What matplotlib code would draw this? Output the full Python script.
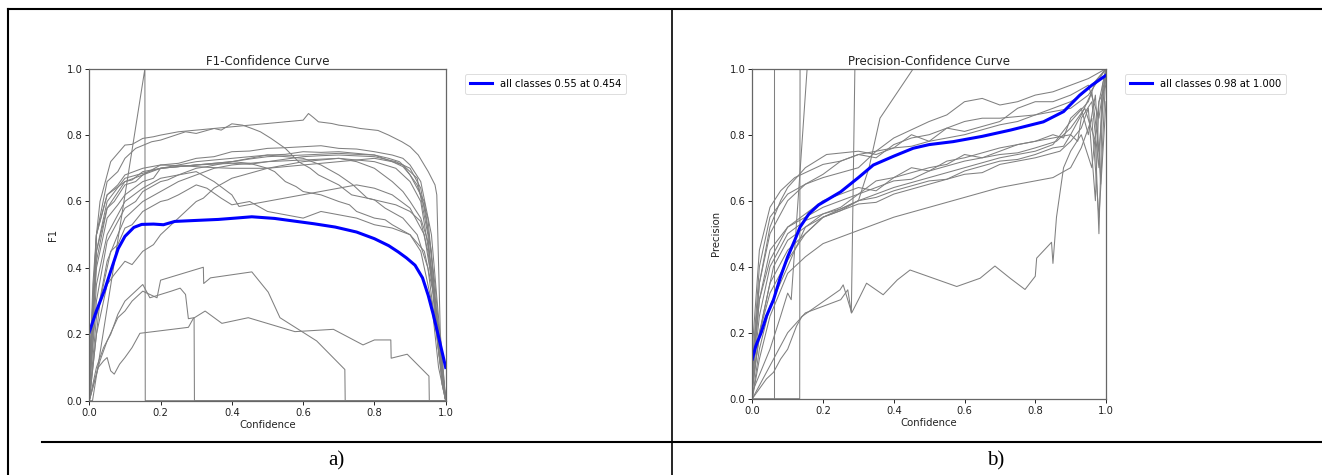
import matplotlib.pyplot as plt
import numpy as np

# ---------------- data ----------------
# F1-Confidence: per-class curves as (confidence, f1) points
f1_classes = [
    [[0, 0.05], [0.01, 0.35], [0.02, 0.5], [0.03, 0.6], [0.045, 0.66], [0.06, 0.72], [0.08, 0.745], [0.1, 0.77],
     [0.12, 0.772], [0.15, 0.79], [0.18, 0.795], [0.2, 0.80], [0.25, 0.81], [0.3, 0.815], [0.35, 0.82],
     [0.4, 0.825], [0.45, 0.83], [0.5, 0.835], [0.55, 0.84], [0.6, 0.845], [0.615, 0.865], [0.63, 0.852],
     [0.643, 0.84], [0.68, 0.835], [0.7, 0.83], [0.736, 0.825], [0.76, 0.82], [0.81, 0.814], [0.84, 0.80],
     [0.877, 0.78], [0.9, 0.765], [0.923, 0.74], [0.951, 0.69], [0.97, 0.65], [0.975, 0.62], [0.985, 0.2],
     [1.0, 0.0]],
    [[0, 0.02], [0.02, 0.5], [0.05, 0.66], [0.08, 0.69], [0.1, 0.73], [0.13, 0.76], [0.175, 0.78], [0.2, 0.785],
     [0.27, 0.81], [0.3, 0.805], [0.35, 0.82], [0.37, 0.815], [0.4, 0.834], [0.43, 0.83], [0.456, 0.82],
     [0.48, 0.81], [0.51, 0.79], [0.55, 0.76], [0.587, 0.72], [0.62, 0.70], [0.643, 0.68], [0.7, 0.65],
     [0.736, 0.62], [0.78, 0.61], [0.82, 0.60], [0.86, 0.59], [0.9, 0.57], [0.93, 0.54], [0.95, 0.45],
     [0.98, 0.2], [1.0, 0.0]],
    [[0, 0.1], [0.02, 0.45], [0.05, 0.58], [0.07, 0.6], [0.1, 0.65], [0.13, 0.66], [0.15, 0.68], [0.2, 0.71],
     [0.25, 0.715], [0.3, 0.73], [0.35, 0.735], [0.4, 0.75], [0.45, 0.752], [0.5, 0.76], [0.55, 0.762],
     [0.6, 0.765], [0.65, 0.768], [0.7, 0.76], [0.75, 0.758], [0.8, 0.75], [0.85, 0.74], [0.88, 0.73],
     [0.9, 0.71], [0.93, 0.66], [0.96, 0.5], [0.98, 0.25], [1.0, 0.0]],
    [[0, 0.05], [0.02, 0.4], [0.05, 0.55], [0.08, 0.59], [0.1, 0.62], [0.15, 0.66], [0.18, 0.67], [0.2, 0.70],
     [0.25, 0.705], [0.3, 0.71], [0.35, 0.715], [0.4, 0.72], [0.45, 0.73], [0.5, 0.74], [0.55, 0.742],
     [0.6, 0.75], [0.65, 0.748], [0.7, 0.75], [0.75, 0.745], [0.8, 0.74], [0.85, 0.72], [0.88, 0.705],
     [0.9, 0.68], [0.94, 0.6], [0.97, 0.35], [0.99, 0.1], [1.0, 0.0]],
    [[0, 0.08], [0.02, 0.5], [0.05, 0.62], [0.08, 0.65], [0.1, 0.68], [0.15, 0.70], [0.2, 0.71], [0.25, 0.708],
     [0.3, 0.705], [0.35, 0.702], [0.4, 0.70], [0.5, 0.70], [0.6, 0.71], [0.7, 0.72], [0.75, 0.725],
     [0.8, 0.73], [0.85, 0.72], [0.88, 0.71], [0.92, 0.65], [0.95, 0.55], [0.98, 0.2], [1.0, 0.0]],
    [[0, 0.03], [0.02, 0.3], [0.05, 0.48], [0.08, 0.54], [0.1, 0.58], [0.13, 0.6], [0.15, 0.63], [0.2, 0.66],
     [0.22, 0.665], [0.25, 0.68], [0.3, 0.70], [0.33, 0.705], [0.4, 0.72], [0.45, 0.728], [0.5, 0.735],
     [0.6, 0.74], [0.7, 0.745], [0.75, 0.742], [0.8, 0.74], [0.84, 0.73], [0.87, 0.72], [0.92, 0.67],
     [0.95, 0.5], [0.97, 0.25], [0.99, 0.05], [1.0, 0.0]],
    [[0, 0.05], [0.02, 0.42], [0.05, 0.58], [0.1, 0.66], [0.12, 0.665], [0.15, 0.69], [0.2, 0.70], [0.3, 0.71],
     [0.4, 0.715], [0.45, 0.712], [0.5, 0.72], [0.6, 0.735], [0.65, 0.738], [0.7, 0.74], [0.8, 0.735],
     [0.86, 0.72], [0.9, 0.70], [0.93, 0.64], [0.96, 0.45], [0.98, 0.15], [1.0, 0.0]],
    [[0, 0.1], [0.02, 0.5], [0.05, 0.62], [0.1, 0.66], [0.15, 0.68], [0.2, 0.70], [0.3, 0.71], [0.4, 0.72],
     [0.45, 0.715], [0.5, 0.70], [0.52, 0.69], [0.55, 0.66], [0.58, 0.645], [0.6, 0.63], [0.65, 0.62],
     [0.7, 0.60], [0.73, 0.59], [0.75, 0.57], [0.8, 0.55], [0.83, 0.545], [0.85, 0.53], [0.9, 0.50],
     [0.93, 0.45], [0.96, 0.3], [0.98, 0.1], [1.0, 0.0]],
    [[0, 0.0], [0.03, 0.3], [0.06, 0.45], [0.08, 0.47], [0.1, 0.52], [0.12, 0.53], [0.15, 0.57], [0.2, 0.6],
     [0.22, 0.605], [0.25, 0.62], [0.3, 0.65], [0.33, 0.64], [0.37, 0.61], [0.4, 0.59], [0.45, 0.60],
     [0.5, 0.57], [0.55, 0.56], [0.6, 0.55], [0.65, 0.57], [0.7, 0.56], [0.75, 0.55], [0.8, 0.53],
     [0.85, 0.52], [0.9, 0.5], [0.94, 0.45], [0.97, 0.3], [1.0, 0.0]],
    [[0, 0.02], [0.02, 0.35], [0.05, 0.5], [0.1, 0.6], [0.15, 0.64], [0.2, 0.67], [0.25, 0.68], [0.3, 0.69],
     [0.35, 0.66], [0.4, 0.62], [0.42, 0.585], [0.75, 0.65], [0.8, 0.64], [0.85, 0.62], [0.9, 0.58],
     [0.94, 0.5], [0.97, 0.3], [0.99, 0.05], [1.0, 0.0]],
    [[0, 0.0], [0.02, 0.2], [0.05, 0.35], [0.07, 0.38], [0.1, 0.42], [0.12, 0.41], [0.15, 0.45], [0.18, 0.47],
     [0.2, 0.5], [0.25, 0.55], [0.3, 0.6], [0.32, 0.61], [0.35, 0.64], [0.4, 0.67], [0.5, 0.70], [0.6, 0.72],
     [0.7, 0.73], [0.8, 0.72], [0.86, 0.70], [0.9, 0.66], [0.93, 0.6], [0.96, 0.4], [0.98, 0.15], [1.0, 0.0]],
    [[0, 0.05], [0.02, 0.45], [0.05, 0.6], [0.1, 0.67], [0.2, 0.70], [0.3, 0.72], [0.4, 0.73], [0.5, 0.74],
     [0.6, 0.73], [0.65, 0.71], [0.7, 0.68], [0.74, 0.65], [0.78, 0.61], [0.8, 0.605], [0.83, 0.58],
     [0.88, 0.55], [0.92, 0.5], [0.95, 0.4], [0.98, 0.15], [1.0, 0.0]],
    [[0, 0.0], [0.02, 0.25], [0.05, 0.42], [0.08, 0.5], [0.1, 0.55], [0.15, 0.6], [0.2, 0.63], [0.25, 0.66],
     [0.3, 0.68], [0.35, 0.7], [0.4, 0.71], [0.5, 0.72], [0.6, 0.725], [0.7, 0.73], [0.75, 0.72],
     [0.8, 0.7], [0.85, 0.66], [0.88, 0.63], [0.9, 0.6], [0.93, 0.55], [0.95, 0.48], [0.97, 0.3],
     [0.99, 0.08], [1.0, 0.0]],
    [[0, 0.0], [0.009, 0.0], [0.156, 1.0], [0.157, 0.0], [1.0, 0.0]],
    [[0, 0.0], [0.025, 0.1], [0.04, 0.12], [0.05, 0.13], [0.06, 0.09], [0.07, 0.08], [0.085, 0.11],
     [0.1, 0.13], [0.12, 0.16], [0.142, 0.203], [0.278, 0.221], [0.292, 0.248], [0.325, 0.27], [0.372, 0.233],
     [0.446, 0.25], [0.577, 0.208], [0.685, 0.215], [0.768, 0.168], [0.80, 0.183], [0.846, 0.183],
     [0.847, 0.128], [0.892, 0.14], [0.953, 0.074], [0.954, 0.0], [1.0, 0.0]],
    [[0, 0.0], [0.03, 0.12], [0.05, 0.18], [0.08, 0.25], [0.1, 0.27], [0.12, 0.3], [0.15, 0.33], [0.17, 0.32],
     [0.19, 0.31], [0.2, 0.363], [0.32, 0.402], [0.321, 0.353], [0.34, 0.37], [0.456, 0.388], [0.502, 0.327],
     [0.535, 0.25], [0.638, 0.18], [0.717, 0.094], [0.718, 0.0], [1.0, 0.0]],
    [[0, 0.0], [0.02, 0.1], [0.04, 0.16], [0.06, 0.2], [0.08, 0.26], [0.1, 0.3], [0.12, 0.32], [0.13, 0.33],
     [0.15, 0.35], [0.16, 0.33], [0.17, 0.31], [0.2, 0.32], [0.23, 0.33], [0.255, 0.339], [0.27, 0.32],
     [0.278, 0.247], [0.294, 0.25], [0.295, 0.0], [1.0, 0.0]],
]
f1_all_x = [0, 0.02, 0.044, 0.06, 0.081, 0.1, 0.125, 0.147, 0.18, 0.208, 0.24, 0.3, 0.362, 0.41, 0.456,
            0.52, 0.568, 0.63, 0.69, 0.75, 0.80, 0.84, 0.867, 0.89, 0.914, 0.935, 0.951, 0.965, 0.979, 1.0]
f1_all_y = [0.207, 0.27, 0.337, 0.39, 0.458, 0.495, 0.522, 0.531, 0.532, 0.53, 0.54, 0.543, 0.546, 0.55,
            0.554, 0.549, 0.542, 0.533, 0.523, 0.508, 0.488, 0.467, 0.448, 0.43, 0.408, 0.37, 0.317, 0.26,
            0.197, 0.10]

# Precision-Confidence: per-class curves
p_classes = [
    [[0, 0.15], [0.02, 0.45], [0.05, 0.58], [0.08, 0.63], [0.12, 0.67], [0.2, 0.71], [0.25, 0.72], [0.3, 0.74],
     [0.4, 0.76], [0.45, 0.765], [0.5, 0.78], [0.6, 0.80], [0.7, 0.83], [0.75, 0.84], [0.8, 0.86],
     [0.85, 0.88], [0.9, 0.9], [0.93, 0.92], [0.96, 0.95], [1.0, 1.0]],
    [[0, 0.1], [0.02, 0.35], [0.05, 0.5], [0.1, 0.6], [0.15, 0.65], [0.2, 0.68], [0.25, 0.72], [0.3, 0.74],
     [0.35, 0.73], [0.4, 0.77], [0.45, 0.79], [0.5, 0.80], [0.55, 0.82], [0.6, 0.81], [0.7, 0.84],
     [0.75, 0.88], [0.8, 0.90], [0.85, 0.90], [0.9, 0.92], [0.95, 0.95], [0.98, 0.85], [1.0, 1.0]],
    [[0, 0.05], [0.03, 0.25], [0.06, 0.4], [0.1, 0.48], [0.15, 0.52], [0.2, 0.55], [0.25, 0.57], [0.3, 0.6],
     [0.33, 0.7], [0.361, 0.85], [0.455, 1.0], [1.0, 1.0]],
    [[0, 0.05], [0.02, 0.25], [0.05, 0.4], [0.1, 0.5], [0.15, 0.54], [0.2, 0.56], [0.25, 0.575], [0.3, 0.6],
     [0.35, 0.61], [0.4, 0.63], [0.5, 0.66], [0.55, 0.665], [0.6, 0.69], [0.7, 0.72], [0.75, 0.725],
     [0.8, 0.74], [0.85, 0.76], [0.88, 0.765], [0.9, 0.8], [0.92, 0.78], [0.93, 0.85], [0.96, 0.9],
     [0.98, 0.7], [0.99, 0.95], [1.0, 1.0]],
    [[0, 0.02], [0.02, 0.2], [0.05, 0.35], [0.1, 0.45], [0.15, 0.5], [0.2, 0.55], [0.3, 0.59], [0.35, 0.595],
     [0.4, 0.62], [0.5, 0.65], [0.6, 0.68], [0.65, 0.685], [0.7, 0.71], [0.8, 0.73], [0.87, 0.75],
     [0.9, 0.78], [0.93, 0.82], [0.95, 0.88], [0.97, 0.6], [0.98, 0.9], [1.0, 0.95]],
    [[0, 0.0], [0.02, 0.12], [0.05, 0.25], [0.1, 0.38], [0.15, 0.43], [0.2, 0.47], [0.3, 0.51], [0.4, 0.55],
     [0.5, 0.58], [0.6, 0.61], [0.7, 0.64], [0.8, 0.66], [0.85, 0.67], [0.9, 0.7], [0.93, 0.76],
     [0.96, 0.85], [0.98, 0.55], [1.0, 0.9]],
    [[0, 0.08], [0.02, 0.3], [0.05, 0.45], [0.1, 0.52], [0.15, 0.55], [0.2, 0.58], [0.3, 0.62], [0.4, 0.66],
     [0.45, 0.665], [0.5, 0.69], [0.6, 0.72], [0.7, 0.74], [0.75, 0.745], [0.8, 0.76], [0.86, 0.78],
     [0.9, 0.82], [0.94, 0.88], [0.97, 0.78], [0.98, 0.5], [0.99, 0.9], [1.0, 1.0]],
    [[0, 0.03], [0.02, 0.2], [0.05, 0.32], [0.1, 0.42], [0.15, 0.5], [0.2, 0.55], [0.3, 0.6], [0.4, 0.64],
     [0.5, 0.67], [0.6, 0.7], [0.7, 0.73], [0.8, 0.75], [0.85, 0.77], [0.9, 0.84], [0.95, 0.9],
     [0.97, 0.96], [1.0, 1.0]],
    [[0, 0.1], [0.02, 0.4], [0.05, 0.55], [0.1, 0.62], [0.15, 0.65], [0.2, 0.67], [0.3, 0.7], [0.35, 0.75],
     [0.4, 0.79], [0.44, 0.81], [0.5, 0.84], [0.55, 0.86], [0.6, 0.9], [0.65, 0.91], [0.7, 0.89],
     [0.75, 0.9], [0.8, 0.92], [0.85, 0.93], [0.9, 0.95], [0.95, 0.97], [1.0, 1.0]],
    [[0, 0.05], [0.02, 0.3], [0.05, 0.42], [0.08, 0.48], [0.1, 0.52], [0.15, 0.56], [0.2, 0.6], [0.25, 0.62],
     [0.3, 0.64], [0.35, 0.63], [0.4, 0.67], [0.5, 0.7], [0.55, 0.71], [0.6, 0.74], [0.65, 0.73],
     [0.7, 0.75], [0.75, 0.77], [0.8, 0.78], [0.85, 0.8], [0.88, 0.79], [0.9, 0.85], [0.93, 0.88],
     [0.95, 0.8], [0.97, 0.92], [0.985, 0.65], [1.0, 1.0]],
    [[0, 0.0], [0.02, 0.15], [0.05, 0.28], [0.1, 0.4], [0.12, 0.45], [0.15, 0.52], [0.2, 0.56], [0.25, 0.58],
     [0.3, 0.62], [0.35, 0.66], [0.4, 0.67], [0.45, 0.7], [0.5, 0.69], [0.55, 0.72], [0.6, 0.73],
     [0.7, 0.76], [0.8, 0.78], [0.85, 0.79], [0.9, 0.8], [0.93, 0.86], [0.96, 0.93], [0.98, 0.75], [1.0, 1.0]],
    [[0, 0.05], [0.02, 0.35], [0.05, 0.52], [0.08, 0.6], [0.1, 0.64], [0.15, 0.7], [0.21, 0.74], [0.3, 0.75],
     [0.35, 0.74], [0.4, 0.76], [0.45, 0.8], [0.5, 0.78], [0.55, 0.82], [0.6, 0.84], [0.65, 0.85],
     [0.7, 0.85], [0.8, 0.86], [0.9, 0.88], [0.95, 0.92], [1.0, 1.0]],
    [[0, 0.0], [0.02, 0.03], [0.04, 0.06], [0.06, 0.08], [0.08, 0.12], [0.1, 0.15], [0.125, 0.22],
     [0.14, 0.249], [0.248, 0.33], [0.257, 0.345], [0.281, 0.26], [0.3, 0.3], [0.323, 0.35], [0.37, 0.315],
     [0.41, 0.36], [0.446, 0.39], [0.578, 0.34], [0.644, 0.365], [0.686, 0.402], [0.729, 0.365],
     [0.771, 0.331], [0.8, 0.371], [0.804, 0.426], [0.846, 0.474], [0.85, 0.41], [0.86, 0.55], [0.88, 0.7],
     [0.9, 0.75], [0.93, 0.8], [0.96, 0.7], [0.98, 0.9], [1.0, 1.0]],
    [[0, 0.0], [0.062, 0.0], [0.062, 1.0], [1.0, 1.0]],
    [[0, 0.0], [0.134, 0.0], [0.135, 1.0], [1.0, 1.0]],
    [[0, 0.02], [0.05, 0.15], [0.08, 0.25], [0.1, 0.32], [0.11, 0.3], [0.155, 1.0], [1.0, 1.0]],
    [[0, 0.0], [0.05, 0.1], [0.1, 0.2], [0.15, 0.26], [0.2, 0.28], [0.25, 0.3], [0.27, 0.33], [0.28, 0.26],
     [0.29, 1.0], [1.0, 1.0]],
]
p_all_x = [0, 0.01, 0.025, 0.04, 0.06, 0.08, 0.1, 0.12, 0.135, 0.16, 0.187, 0.25, 0.3, 0.342, 0.4, 0.455,
           0.5, 0.568, 0.65, 0.73, 0.823, 0.88, 0.926, 0.96, 1.0]
p_all_y = [0.12, 0.16, 0.2, 0.25, 0.3, 0.37, 0.43, 0.48, 0.52, 0.56, 0.587, 0.627, 0.67, 0.708, 0.735,
           0.759, 0.77, 0.779, 0.795, 0.814, 0.839, 0.87, 0.92, 0.95, 0.98]

f1_label = 'all classes 0.55 at 0.454'
p_label = 'all classes 0.98 at 1.000'

# ---------------- figure ----------------
W, H = 1322, 475
fig = plt.figure(figsize=(W / 100, H / 100), dpi=100)

# page background: table borders and captions (pixel coordinates)
bg = fig.add_axes([0, 0, 1, 1])
bg.set_xlim(0, W)
bg.set_ylim(H, 0)
bg.axis('off')
bg.plot([8, 8], [9, H], color='black', lw=1.5)
bg.plot([8, W], [9, 9], color='black', lw=1.5)
bg.plot([672, 672], [9, H], color='black', lw=1.2)
bg.plot([42, W], [442, 442], color='black', lw=1.5)
bg.text(336, 461, 'a)', ha='center', va='center', fontsize=15, family='Liberation Serif')
bg.text(996, 461, 'b)', ha='center', va='center', fontsize=15, family='Liberation Serif')


def make_ax(x0, y0, w, h):
    return fig.add_axes([x0 / W, 1 - (y0 + h) / H, w / W, h / H])


def style(ax, title, ylabel):
    ax.set_xlim(0, 1)
    ax.set_ylim(0, 1)
    ax.set_title(title, fontsize=8.5, color='#222222', pad=3)
    ax.set_xlabel('Confidence', fontsize=7.3, color='#222222', labelpad=2)
    ax.set_ylabel(ylabel, fontsize=7.3, color='#222222', labelpad=6)
    ax.tick_params(labelsize=7.2, colors='#222222', length=3, width=0.7, pad=2)
    for s in ax.spines.values():
        s.set_color('#666666')
        s.set_linewidth(0.9)
    leg = ax.legend(bbox_to_anchor=(1.04, 1), loc='upper left', fontsize=7.2, handlelength=2.2,
                    borderpad=0.5, framealpha=1)
    leg.get_frame().set_edgecolor('#dddddd')
    leg.get_frame().set_linewidth(0.7)


ax1 = make_ax(89.3, 68.7, 356.4, 332)
for c in f1_classes:
    c = np.array(c)
    ax1.plot(c[:, 0], c[:, 1], color='grey', lw=0.75)
ax1.plot(f1_all_x, f1_all_y, color='blue', lw=2.2, label=f1_label)
style(ax1, 'F1-Confidence Curve', 'F1')

ax2 = make_ax(752.3, 68.7, 353.7, 330)
for c in p_classes:
    c = np.array(c)
    ax2.plot(c[:, 0], c[:, 1], color='grey', lw=0.75)
ax2.plot(p_all_x, p_all_y, color='blue', lw=2.2, label=p_label)
style(ax2, 'Precision-Confidence Curve', 'Precision')

fig.savefig('out.png', dpi=100)
